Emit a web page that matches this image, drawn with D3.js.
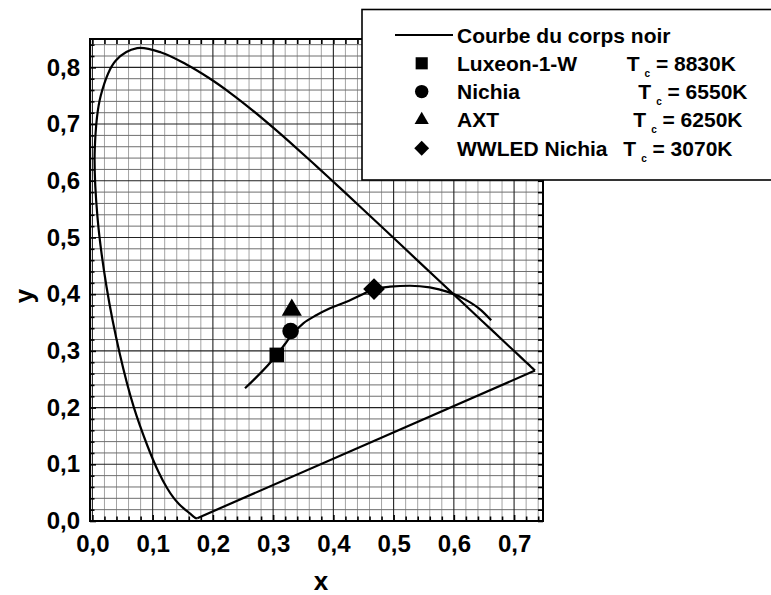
<!DOCTYPE html>
<html><head><meta charset="utf-8">
<script src="https://cdn.jsdelivr.net/npm/d3@7"></script>
<style>
html,body{margin:0;padding:0;background:#fff;}
svg{display:block;font-family:"Liberation Sans",Arial,Helvetica,sans-serif;font-weight:bold;}
</style></head>
<body>
<svg id="chart" width="771" height="595"></svg>
<script>
// ---- data ----
const xTickValues = [0, 0.1, 0.2, 0.3, 0.4, 0.5, 0.6, 0.7];
const yTickValues = [0, 0.1, 0.2, 0.3, 0.4, 0.5, 0.6, 0.7, 0.8];
const xTitle = "x";
const yTitle = "y";

// spectral locus (CIE 1931), 380 nm ... 700 nm
const locusX = [0.1741,0.1738,0.1733,0.1726,0.1714,0.1703,0.1689,0.1669,0.1644,0.1611,0.1566,0.1510,0.1440,0.1355,0.1241,0.1096,0.0913,0.0687,0.0454,0.0235,0.0082,0.0039,0.0139,0.0389,0.0743,0.1142,0.1547,0.1929,0.2296,0.2658,0.3016,0.3373,0.3731,0.4087,0.4441,0.4788,0.5125,0.5448,0.5752,0.6029,0.6270,0.6482,0.6658,0.6801,0.6915,0.7006,0.7079,0.7140,0.7190,0.7230,0.7260,0.7283,0.7300,0.7320,0.7334,0.7347];
const locusY = [0.0050,0.0049,0.0048,0.0048,0.0051,0.0058,0.0069,0.0086,0.0109,0.0138,0.0177,0.0227,0.0297,0.0399,0.0578,0.0868,0.1327,0.2007,0.2950,0.4127,0.5384,0.6548,0.7502,0.8120,0.8338,0.8262,0.8059,0.7816,0.7543,0.7243,0.6923,0.6589,0.6245,0.5896,0.5547,0.5202,0.4866,0.4544,0.4242,0.3965,0.3725,0.3514,0.3340,0.3197,0.3083,0.2993,0.2920,0.2859,0.2809,0.2770,0.2740,0.2717,0.2700,0.2680,0.2666,0.2653];

// black body curve
const planckX = [0.2533, 0.3059, 0.3197, 0.3292, 0.3501, 0.3723, 0.3944, 0.4260, 0.4497, 0.4675, 0.4940, 0.5272, 0.560, 0.590, 0.620, 0.645, 0.662];
const planckY = [0.2340, 0.2927, 0.3121, 0.3262, 0.3486, 0.3633, 0.3751, 0.3885, 0.4003, 0.4086, 0.4132, 0.4149, 0.4120, 0.4040, 0.3900, 0.3720, 0.3540];

// LEDs
const ledNames = ["Luxeon-1-W", "Nichia", "AXT", "WWLED Nichia"];
const ledTc = ["8830K", "6550K", "6250K", "3070K"];
const ledX = [0.306, 0.329, 0.331, 0.4675];
const ledY = [0.293, 0.335, 0.372, 0.409];
const ledShapes = ["square", "circle", "triangle", "diamond"];
const legendLineLabel = "Courbe du corps noir";

// ---- drawing ----
const svg = d3.select("#chart");
const x = d3.scaleLinear().domain([-0.004, 0.748]).range([90, 543]);
const y = d3.scaleLinear().domain([0, 0.85]).range([521, 39]);
const fmt = d => d3.format(".1f")(d).replace(".", ",");

const minorX = d3.range(0, 0.7481, 0.02).filter(v => Math.abs(v*10 - Math.round(v*10)) > 1e-6);
const minorY = d3.range(0, 0.8501, 0.02).filter(v => Math.abs(v*10 - Math.round(v*10)) > 1e-6);

const grid = svg.append("g");
grid.selectAll(".vmin").data(minorX).join("line")
  .attr("x1", d => x(d)).attr("x2", d => x(d)).attr("y1", y(0)).attr("y2", y(0.85))
  .attr("stroke", "#a3a3a3").attr("stroke-width", 1);
grid.selectAll(".hmin").data(minorY).join("line")
  .attr("y1", d => y(d)).attr("y2", d => y(d)).attr("x1", x.range()[0]).attr("x2", x.range()[1])
  .attr("stroke", "#6e6e6e").attr("stroke-width", 1);
grid.selectAll(".vmaj").data(xTickValues).join("line")
  .attr("x1", d => x(d)).attr("x2", d => x(d)).attr("y1", y(0)).attr("y2", y(0.85))
  .attr("stroke", "#222").attr("stroke-width", 1.1);
grid.selectAll(".hmaj").data(yTickValues).join("line")
  .attr("y1", d => y(d)).attr("y2", d => y(d)).attr("x1", x.range()[0]).attr("x2", x.range()[1])
  .attr("stroke", "#222").attr("stroke-width", 1.1);

// axes with inward ticks
function styleAxis(g) {
  g.select(".domain").remove();
  g.selectAll(".tick line").attr("stroke", "#000").attr("stroke-width", 1.6);
  g.selectAll("text").attr("fill", "#000").attr("font-size", 24).attr("font-weight", "bold")
    .attr("font-family", '"Liberation Sans",Arial,sans-serif');
}
const allX = xTickValues.concat(minorX);
const allY = yTickValues.concat(minorY);
svg.append("g").attr("transform", `translate(0,${y(0)})`)
  .call(d3.axisBottom(x).tickValues(xTickValues).tickSize(-6).tickPadding(14).tickFormat(fmt)).call(styleAxis);
svg.append("g").attr("transform", `translate(0,${y(0)})`)
  .call(d3.axisBottom(x).tickValues(minorX).tickSize(-4.5).tickFormat("")).call(styleAxis);
svg.append("g").attr("transform", `translate(0,${y(0.85)})`)
  .call(d3.axisTop(x).tickValues(allX).tickSize(-5).tickFormat("")).call(styleAxis);
svg.append("g").attr("transform", `translate(${x.range()[0]},0)`)
  .call(d3.axisLeft(y).tickValues(yTickValues).tickSize(-6).tickPadding(10).tickFormat(fmt)).call(styleAxis);
svg.append("g").attr("transform", `translate(${x.range()[0]},0)`)
  .call(d3.axisLeft(y).tickValues(minorY).tickSize(-4.5).tickFormat("")).call(styleAxis);
svg.append("g").attr("transform", `translate(${x.range()[1]},0)`)
  .call(d3.axisRight(y).tickValues(allY).tickSize(-5).tickFormat("")).call(styleAxis);

// frame
svg.append("rect").attr("x", x.range()[0]).attr("y", y(0.85))
  .attr("width", x.range()[1] - x.range()[0]).attr("height", y(0) - y(0.85))
  .attr("fill", "none").attr("stroke", "#000").attr("stroke-width", 2);

// spectral locus (closed with purple line)
const line = d3.line().x(d => x(d[0])).y(d => y(d[1])).curve(d3.curveCatmullRom.alpha(0.5));
const locus = locusX.map((v, i) => [v, locusY[i]]);
svg.append("path").datum(locus).attr("d", line)
  .attr("fill", "none").attr("stroke", "#000").attr("stroke-width", 2.2);
svg.append("path").datum([locus[locus.length - 1], locus[0]])
  .attr("d", d3.line().x(d => x(d[0])).y(d => y(d[1])))
  .attr("fill", "none").attr("stroke", "#000").attr("stroke-width", 2.2);

// black body curve
const planck = planckX.map((v, i) => [v, planckY[i]]);
svg.append("path").datum(planck).attr("d", d3.line().x(d => x(d[0])).y(d => y(d[1])).curve(d3.curveMonotoneX))
  .attr("fill", "none").attr("stroke", "#000").attr("stroke-width", 2.2);

// symbols
function symPath(shape, scale) {
  if (shape === "square") return d3.symbol(d3.symbolSquare, 210 * scale)();
  if (shape === "circle") return d3.symbol(d3.symbolCircle, 215 * scale)();
  if (shape === "triangle") return d3.symbol(d3.symbolTriangle, 175 * scale)();
  return d3.symbol(d3.symbolSquare, 235 * scale)();
}
svg.append("g").selectAll("path").data(ledShapes).join("path")
  .attr("d", d => symPath(d, 1))
  .attr("transform", (d, i) => `translate(${x(ledX[i])},${y(ledY[i])})` + (d === "diamond" ? " rotate(45)" : ""))
  .attr("fill", "#000");

// legend
const lg = svg.append("g");
lg.append("rect").attr("x", 362).attr("y", 9.5).attr("width", 420).attr("height", 170.5)
  .attr("fill", "#fff").attr("stroke", "#000").attr("stroke-width", 1.6);
const rowY = i => 35 + i * 28.3;
lg.append("line").attr("x1", 395).attr("x2", 453).attr("y1", rowY(0)).attr("y2", rowY(0))
  .attr("stroke", "#000").attr("stroke-width", 2);
lg.append("text").attr("x", 457).attr("y", rowY(0) + 7.5).attr("font-size", 21).text(legendLineLabel);
const legSym = {square: 0.7, circle: 0.66, triangle: 0.5, diamond: 0.47};
lg.selectAll(".ls").data(ledShapes).join("path")
  .attr("d", d => symPath(d, legSym[d]))
  .attr("transform", (d, i) => `translate(421.7,${rowY(i + 1)})` + (d === "diamond" ? " rotate(45)" : ""))
  .attr("fill", "#000");
lg.selectAll(".ln").data(ledNames).join("text")
  .attr("x", 457).attr("y", (d, i) => rowY(i + 1) + 7.5).attr("font-size", 21).text(d => d);
const tcX = [626.7, 638.3, 633.3, 623.3];
const tcT = lg.selectAll(".tc").data(ledTc).join("text")
  .attr("x", (d, i) => tcX[i]).attr("y", (d, i) => rowY(i + 1) + 7.5).attr("font-size", 21);
tcT.append("tspan").text("T");
tcT.append("tspan").attr("font-size", 10).attr("dx", 5).attr("dy", 6).text("c");
tcT.append("tspan").attr("dy", -6).text(d => " = " + d);

// axis titles
svg.append("text").attr("x", 321).attr("y", 590).attr("text-anchor", "middle").attr("font-size", 26).text(xTitle);
svg.append("text").attr("transform", "translate(33,296) rotate(-90)").attr("text-anchor", "middle").attr("font-size", 26).text(yTitle);
</script>
</body></html>
